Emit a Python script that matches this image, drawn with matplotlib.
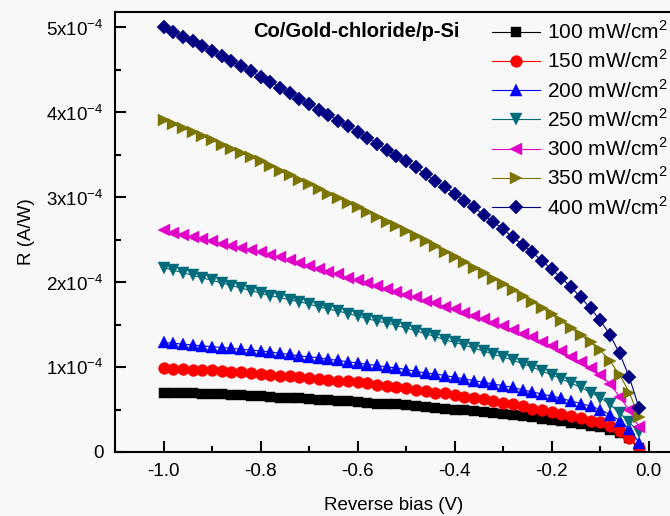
import matplotlib
matplotlib.use("Agg")
import matplotlib.pyplot as plt
import numpy as np
import matplotlib.ticker as ticker

plt.rcParams['font.family'] = ['Liberation Sans', 'DejaVu Sans']
plt.rcParams['mathtext.fontset'] = 'custom'
plt.rcParams['mathtext.rm'] = 'Liberation Sans'

# reverse bias (V), -1.00 ... -0.02
bias = np.round(np.arange(-1.0, -0.01, 0.02), 2)

# responsivity, in units of 1e-4 A/W
r100 = [0.70, 0.70, 0.69, 0.69, 0.68, 0.68, 0.68, 0.67, 0.67, 0.66,
        0.66, 0.65, 0.64, 0.64, 0.63, 0.62, 0.61, 0.61, 0.60, 0.60,
        0.59, 0.58, 0.57, 0.57, 0.56, 0.55, 0.54, 0.53, 0.52, 0.51,
        0.50, 0.49, 0.48, 0.47, 0.46, 0.45, 0.44, 0.42, 0.41, 0.39,
        0.38, 0.36, 0.34, 0.33, 0.31, 0.29, 0.26, 0.22, 0.16, 0.05]
r150 = [0.99, 0.98, 0.98, 0.97, 0.97, 0.96, 0.95, 0.94, 0.94, 0.93,
        0.92, 0.91, 0.90, 0.89, 0.88, 0.87, 0.86, 0.85, 0.84, 0.83,
        0.82, 0.81, 0.79, 0.78, 0.76, 0.75, 0.73, 0.72, 0.70, 0.69,
        0.67, 0.65, 0.63, 0.62, 0.60, 0.58, 0.56, 0.54, 0.51, 0.49,
        0.47, 0.45, 0.42, 0.40, 0.37, 0.35, 0.31, 0.25, 0.16, 0.05]
r200 = [1.29, 1.28, 1.27, 1.26, 1.25, 1.24, 1.23, 1.22, 1.21, 1.20,
        1.19, 1.18, 1.16, 1.15, 1.13, 1.12, 1.11, 1.09, 1.08, 1.06,
        1.05, 1.03, 1.02, 1.00, 0.99, 0.97, 0.95, 0.93, 0.92, 0.90,
        0.88, 0.86, 0.84, 0.82, 0.80, 0.78, 0.76, 0.73, 0.71, 0.68,
        0.66, 0.63, 0.60, 0.57, 0.54, 0.50, 0.44, 0.37, 0.27, 0.11]
r250 = [2.17, 2.14, 2.11, 2.08, 2.05, 2.02, 1.99, 1.96, 1.93, 1.90,
        1.87, 1.84, 1.82, 1.79, 1.77, 1.74, 1.71, 1.68, 1.66, 1.63,
        1.60, 1.57, 1.54, 1.52, 1.49, 1.46, 1.43, 1.39, 1.36, 1.32,
        1.29, 1.26, 1.22, 1.19, 1.15, 1.12, 1.08, 1.04, 1.00, 0.95,
        0.91, 0.86, 0.81, 0.76, 0.70, 0.64, 0.56, 0.46, 0.35, 0.23]
r300 = [2.61, 2.58, 2.56, 2.53, 2.51, 2.48, 2.45, 2.43, 2.40, 2.38,
        2.35, 2.32, 2.29, 2.26, 2.22, 2.19, 2.16, 2.12, 2.09, 2.05,
        2.02, 1.99, 1.95, 1.92, 1.88, 1.85, 1.82, 1.78, 1.75, 1.71,
        1.68, 1.64, 1.60, 1.56, 1.52, 1.48, 1.44, 1.39, 1.35, 1.30,
        1.25, 1.19, 1.12, 1.06, 0.99, 0.91, 0.80, 0.65, 0.49, 0.29]
r350 = [3.91, 3.86, 3.81, 3.77, 3.72, 3.67, 3.62, 3.57, 3.52, 3.47,
        3.42, 3.37, 3.31, 3.26, 3.20, 3.15, 3.10, 3.04, 2.99, 2.93,
        2.88, 2.82, 2.77, 2.71, 2.66, 2.60, 2.54, 2.48, 2.42, 2.36,
        2.30, 2.24, 2.17, 2.11, 2.04, 1.98, 1.91, 1.84, 1.77, 1.70,
        1.62, 1.54, 1.46, 1.38, 1.29, 1.20, 1.07, 0.91, 0.70, 0.41]
r400 = [5.00, 4.95, 4.89, 4.84, 4.78, 4.72, 4.66, 4.60, 4.54, 4.48,
        4.42, 4.36, 4.29, 4.23, 4.16, 4.10, 4.03, 3.97, 3.90, 3.84,
        3.77, 3.70, 3.63, 3.56, 3.49, 3.42, 3.35, 3.27, 3.19, 3.12,
        3.04, 2.96, 2.88, 2.79, 2.71, 2.62, 2.53, 2.44, 2.35, 2.25,
        2.15, 2.05, 1.94, 1.82, 1.69, 1.55, 1.38, 1.16, 0.88, 0.52]

labels = ['100', '150', '200', '250', '300', '350', '400']
series = [r100, r150, r200, r250, r300, r350, r400]
colors = ['#000000', '#ff0000', '#0000ff', '#006b7a', '#e000c8', '#7a7400', '#000080']
markers = ['s', 'o', '^', 'v', '<', '>', 'D']
msizes = [7.2, 8.5, 9.2, 9.2, 9.2, 9.2, 7.5]

ytick_vals = [0, 1, 2, 3, 4, 5]
ytick_labels = ['0'] + [r'%dx10$^{-4}$' % v for v in ytick_vals[1:]]
xtick_vals = [-1.0, -0.8, -0.6, -0.4, -0.2, 0.0]

fig = plt.figure(figsize=(6.7, 5.16), dpi=100)
fig.patch.set_facecolor('#f8f8f8')
ax = fig.add_axes([115 / 670, 64 / 516, 558 / 670, 440 / 516])
ax.set_facecolor('#f8f8f8')

for lab, vals, c, m, ms in zip(labels, series, colors, markers, msizes):
    ax.plot(bias, np.array(vals) * 1e-4, color=c, marker=m, markersize=ms,
            linewidth=0.8, markeredgewidth=0.3, label=lab + r' mW/cm$^2$')

ax.set_xlim(-1.1, 0.05)
ax.set_ylim(0, 5.18e-4)
ax.set_xticks(xtick_vals)
ax.set_xticklabels(['%.1f' % v for v in xtick_vals])
ax.set_yticks([v * 1e-4 for v in ytick_vals])
ax.set_yticklabels(ytick_labels)
ax.xaxis.set_minor_locator(ticker.MultipleLocator(0.1))
ax.yaxis.set_minor_locator(ticker.MultipleLocator(0.5e-4))
ax.tick_params(which='both', direction='in', labelsize=13.5, width=1.5)
ax.tick_params(which='major', length=8, pad=8)
ax.tick_params(which='minor', length=4.5)
for sp in ax.spines.values():
    sp.set_linewidth(1.5)

ax.set_xlabel('Reverse bias (V)', fontsize=13.5, labelpad=12)
ax.set_ylabel('R (A/W)', fontsize=13.5, labelpad=8)

ax.text(0.248, 0.955, 'Co/Gold-chloride/p-Si', transform=ax.transAxes,
        fontsize=14.5, fontweight='bold', ha='left', va='center')

leg = ax.legend(loc='upper right', bbox_to_anchor=(1.005, 1.0), frameon=False,
                fontsize=15, handlelength=2.3, handletextpad=0.3,
                labelspacing=0.32, borderaxespad=0.0)

fig.savefig('out.png', dpi=100, facecolor=fig.get_facecolor())
